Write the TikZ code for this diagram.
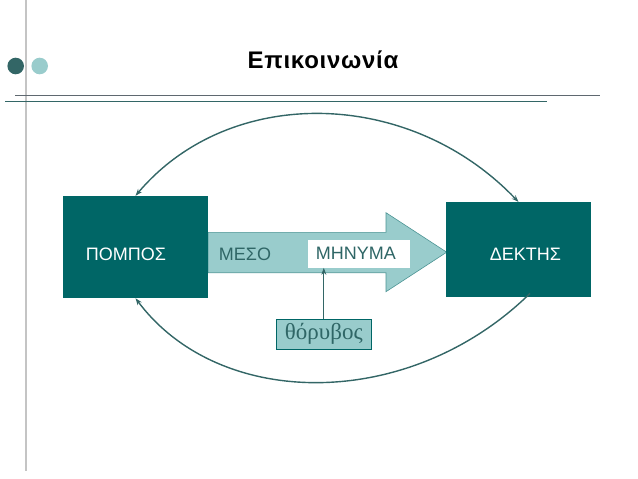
\documentclass[tikz,border=0pt]{standalone}
\usepackage{fontspec}
\setmainfont{Liberation Serif}
\newfontfamily\arialfont{Liberation Sans}
\newfontfamily\headfont[LetterSpace=3]{Liberation Sans Bold}
\usetikzlibrary{arrows.meta}

\definecolor{boxteal}{HTML}{006666}
\definecolor{paleteal}{HTML}{99CCCC}
\definecolor{lineteal}{HTML}{336666}
\definecolor{txtteal}{HTML}{2F6666}
\definecolor{rulegrey}{HTML}{5F6870}
\definecolor{railgrey}{HTML}{C4C4C4}

\begin{document}
\begin{tikzpicture}[
  x=1pt, y=-1pt,
  >={Stealth[length=7pt,width=5pt]},
  party/.style={fill=boxteal, inner sep=0pt, minimum width=145pt},
  partytext/.style={text=white, font=\arialfont\fontsize{18}{20}\selectfont},
  flowtext/.style={text=txtteal, font=\arialfont\fontsize{18}{20}\selectfont},
  link/.style={draw=lineteal, line width=1.4pt}
]
\useasboundingbox (0,0) rectangle (638,479);

% slide decoration
\draw[railgrey, line width=2pt] (26,0) -- (26,471);
\fill[lineteal] (15.7,66) circle (8.3pt);
\fill[paleteal] (39.7,66) circle (8.3pt);
\draw[rulegrey, line width=1.2pt] (15,95.3) -- (600,95.3);
\draw[lineteal, line width=1.2pt] (5,101.3) -- (546.7,101.3);

\node[font=\headfont\fontsize{24}{28}\selectfont] (title) at (323,60) {Επικοινωνία};

% channel arrow
\filldraw[fill=paleteal, draw=boxteal!70, line width=0.6pt]
  (208,232.3) -- (386,232.3) -- (386,212.7) -- (446.7,252.2)
  -- (386,291.7) -- (386,272.7) -- (208,272.7) -- cycle;

\node[party, minimum height=102pt,
  label={[partytext, xshift=-9.5pt, yshift=-7pt]center:ΠΟΜΠΟΣ}] (pompos) at (135.5,247) {};
\node[party, minimum height=95pt,
  label={[partytext, xshift=7pt, yshift=-5pt]center:ΔΕΚΤΗΣ}] (dektis) at (518.5,249.7) {};

\node[flowtext] (meso) at (245,254.5) {ΜΕΣΟ};
\node[flowtext, fill=white, anchor=west, inner xsep=8pt, inner ysep=0pt,
  text width=85.6pt, minimum height=27.7pt, align=left] (minima) at (307.7,253.8) {ΜΗΝΥΜΑ};

\node[fill=paleteal, draw=boxteal, line width=0.6pt, text=txtteal,
  minimum width=95.7pt, minimum height=30pt, inner sep=0pt,
  font=\fontsize{23}{26}\selectfont] (noise) at (323.8,334.3) {θόρυβος};

% noise and feedback
\draw[->, lineteal, line width=0.8pt] (noise.north) -- (noise.north |- minima.south);
\draw[<->, link] (pompos.north) .. controls (230,84) and (410,88) .. (dektis.north);
\draw[->, link] ([xshift=11.5pt,yshift=4pt]dektis.south) .. controls (410,411) and (220,411) .. (pompos.south);

\end{tikzpicture}
\end{document}
